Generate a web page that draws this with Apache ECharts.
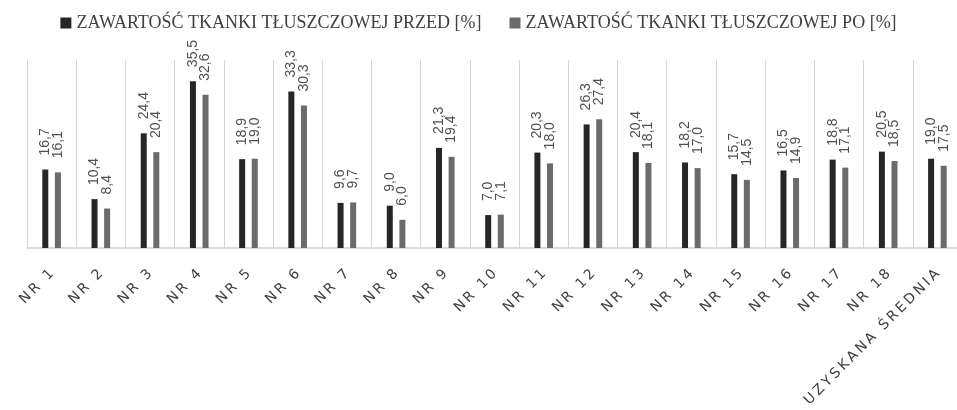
<!DOCTYPE html>
<html>
<head>
	<meta charset="utf-8">
	<title></title>
	<script src="https://cdn.jsdelivr.net/npm/echarts@6/dist/echarts.min.js"></script>
	<style>
		html,body{margin:0;padding:0;background:#fff;}
		#chart{width:957px;height:410px;}
	</style>
</head>
<body>
	<div id="chart"></div>
</body>
<script type="text/javascript">
	var categories=['NR 1','NR 2','NR 3','NR 4','NR 5','NR 6','NR 7','NR 8','NR 9','NR 10',
		'NR 11','NR 12','NR 13','NR 14','NR 15','NR 16','NR 17','NR 18','UZYSKANA ŚREDNIA'];
	var przed=[16.7,10.4,24.4,35.5,18.9,33.3,9.6,9.0,21.3,7.0,20.3,26.3,20.4,18.2,15.7,16.5,18.8,20.5,19.0];
	var po=[16.1,8.4,20.4,32.6,19.0,30.3,9.7,6.0,19.4,7.1,18.0,27.4,18.1,17.0,14.5,14.9,17.1,18.5,17.5];
	var seriesNames=['ZAWARTOŚĆ TKANKI TŁUSZCZOWEJ PRZED [%]','ZAWARTOŚĆ TKANKI TŁUSZCZOWEJ PO [%]'];

	var myChart=echarts.init(document.getElementById('chart'));

	// etykiety wartosci: przecinek dziesietny, obrocone pionowo
	var valueLabel={
		show:true,
		position:'top',
		rotate:90,
		align:'left',
		verticalAlign:'middle',
		distance:14,
		color:'#505050',
		fontSize:14,
		fontFamily:"'Liberation Sans',sans-serif",
		formatter:function(p){return p.value.toFixed(1).replace('.',',');}
	};

	var option={
		animation:false,
		legend:{
			top:9,
			left:'center',
			itemWidth:11,
			itemHeight:11,
			itemGap:28,
			icon:'rect',
			textStyle:{
				fontFamily:"'Liberation Serif','DejaVu Serif',serif",
				fontSize:18,
				color:'#404040'
			},
			data:seriesNames
		},
		grid:{
			left:27,
			top:60,
			bottom:162,
			width:935,
			outerBoundsMode:'none'
		},
		xAxis:{
			type:'category',
			data:categories,
			axisTick:{show:false},
			axisLine:{lineStyle:{color:'#cfcfcf',width:1.5}},
			splitLine:{show:true,interval:0,lineStyle:{color:'#d6d6d6',width:1}},
			axisLabel:{
				interval:0,
				rotate:45,
				margin:24,
				color:'#404040',
				fontSize:14,
				fontFamily:"'DejaVu Sans',sans-serif",
				formatter:function(v){return v.split('').join('\u2009');}
			}
		},
		yAxis:{
			type:'value',
			min:0,
			max:40,
			show:false,
			splitLine:{show:false}
		},
		series:[
			{
				name:seriesNames[0],
				type:'bar',
				barWidth:6,
				barGap:'110%',
				itemStyle:{color:'#262626'},
				label:valueLabel,
				data:przed
			},
			{
				name:seriesNames[1],
				type:'bar',
				barWidth:6,
				itemStyle:{color:'#6b6b6b'},
				label:valueLabel,
				data:po
			}
		]
	};
	myChart.setOption(option);
</script>
</html>
